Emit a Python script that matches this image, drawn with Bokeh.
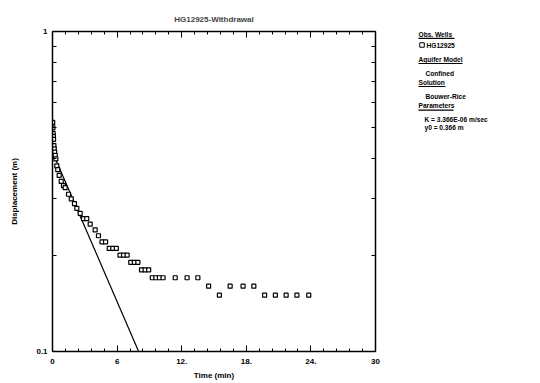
from bokeh.plotting import figure
from bokeh.models import Range1d, FixedTicker, LinearAxis, LogAxis, ColumnDataSource
from bokeh.layouts import row
from bokeh.embed import file_html
from bokeh.resources import INLINE
from bokeh.core.properties import value

# ---- data ----
time_min = [0.02, 0.04, 0.06, 0.08, 0.10, 0.13, 0.16, 0.20, 0.25, 0.31, 0.40, 0.49,
            0.62, 0.81, 1.02, 1.18, 1.49, 1.74, 2.04, 2.26, 2.57, 2.88, 3.18, 3.50,
            3.96, 4.27, 4.60, 4.93, 5.27, 5.60, 5.93, 6.27, 6.60, 6.93, 7.27, 7.60,
            7.93, 8.27, 8.60, 8.93, 9.27, 9.60, 9.93, 10.27, 11.4, 12.5, 13.5, 14.5,
            15.5, 16.5, 17.7, 18.7, 19.7, 20.7, 21.7, 22.7, 23.8]
displacement_m = [0.52, 0.50, 0.48, 0.47, 0.46, 0.44, 0.43, 0.42, 0.41, 0.40, 0.38, 0.37,
                  0.355, 0.34, 0.33, 0.325, 0.31, 0.30, 0.29, 0.28, 0.27, 0.26, 0.26, 0.25,
                  0.24, 0.23, 0.22, 0.22, 0.21, 0.21, 0.21, 0.20, 0.20, 0.20, 0.19, 0.19,
                  0.19, 0.18, 0.18, 0.18, 0.17, 0.17, 0.17, 0.17, 0.17, 0.17, 0.17, 0.16,
                  0.15, 0.16, 0.16, 0.16, 0.15, 0.15, 0.15, 0.15, 0.15]
fit_time = [0.0, 8.0]
fit_disp = [0.42, 0.10]

x_ticks = [0, 6, 12, 18, 24, 30]
x_tick_labels = ["0", "6", "12.", "18.", "24.", "30"]
x_minor_ticks = [1.2, 2.4, 3.6, 4.8, 7.2, 8.4, 9.6, 10.8, 13.2, 14.4, 15.6, 16.8,
                 19.2, 20.4, 21.6, 22.8, 25.2, 26.4, 27.6, 28.8]
y_ticks = [0.1, 1]
y_tick_labels = ["0.1", "1"]
y_minor_ticks = [0.2, 0.3, 0.4, 0.5, 0.6, 0.7, 0.8, 0.9]

legend_texts = ["Obs. Wells", "HG12925", "Aquifer Model", "Confined", "Solution",
                "Bouwer-Rice", "Parameters", "K  = 3.366E-06 m/sec", "y0 = 0.366 m"]

FONT = "Liberation Sans"
H = 383

p = figure(width=385, height=H, x_range=Range1d(0, 30), y_range=Range1d(0.1, 1),
           y_axis_type="log", output_backend="svg", toolbar_location=None,
           min_border_left=52, min_border_right=10, min_border_top=31, min_border_bottom=32,
           title="HG12925-Withdrawal")
p.title.align = "center"
p.title.text_font = FONT
p.title.text_font_size = "8px"
p.title.text_font_style = "bold"
p.title.standoff = 16
p.xgrid.visible = False
p.ygrid.visible = False
p.outline_line_color = "black"
p.background_fill_color = "white"

xt = FixedTicker(ticks=x_ticks, minor_ticks=x_minor_ticks)
yt = FixedTicker(ticks=y_ticks, minor_ticks=y_minor_ticks)

p.xaxis.ticker = xt
p.yaxis.ticker = yt
p.xaxis.major_label_overrides = {t: l for t, l in zip(x_ticks, x_tick_labels)}
p.yaxis.major_label_overrides = {t: l for t, l in zip(y_ticks, y_tick_labels)}
p.xaxis.axis_label = "Time (min)"
p.yaxis.axis_label = "Displacement (m)"

def style(ax, minor_len):
    ax.axis_line_width = 1.5
    ax.axis_line_color = "black"
    ax.major_tick_in = 6
    ax.major_tick_out = 0
    ax.minor_tick_in = minor_len
    ax.minor_tick_out = 0
    ax.major_tick_line_color = "black"
    ax.minor_tick_line_color = "black"
    ax.major_tick_line_width = 1
    ax.minor_tick_line_width = 1
    ax.major_label_text_font = FONT
    ax.major_label_text_font_style = "bold"
    ax.major_label_text_font_size = "8px"
    ax.major_label_text_color = "black"
    ax.axis_label_text_font = FONT
    ax.axis_label_text_font_style = "bold"
    ax.axis_label_text_font_size = "8px"
    ax.axis_label_text_color = "black"

for ax in p.xaxis:
    style(ax, 3)
    ax.major_label_standoff = 7
    ax.axis_label_standoff = 4
for ax in p.yaxis:
    style(ax, 4)
    ax.major_label_standoff = 5
    ax.axis_label_standoff = 14

top = LinearAxis(ticker=xt)
style(top, 3)
top.major_label_text_font_size = "1px"
top.major_label_text_alpha = 0
top.major_label_standoff = 0
p.add_layout(top, "above")

right = LogAxis(ticker=yt)
style(right, 4)
right.major_label_text_font_size = "1px"
right.major_label_text_alpha = 0
right.major_label_standoff = 0
p.add_layout(right, "right")

obs = ColumnDataSource(dict(t=time_min, d=displacement_m))
p.line(fit_time, fit_disp, line_color="black", line_width=1.2)
p.scatter("t", "d", source=obs, marker="square", size=4, fill_color="white",
          line_color="black", line_width=1.2)

# ---- side panel: its frame is aligned with the main frame (page y 31..351),
#      so the ranges below map straight to page pixels ----
p2 = figure(width=147, height=H, x_range=Range1d(0, 147), y_range=Range1d(351, 31),
            output_backend="svg", toolbar_location=None,
            min_border_left=0, min_border_right=0, min_border_top=31, min_border_bottom=32)
p2.xaxis.visible = False
p2.yaxis.visible = False
p2.grid.visible = False
p2.outline_line_color = None

lx = [33, 41, 33, 40, 33, 40, 33, 39, 39]
ly = [33.8, 44.5, 59, 72.7, 81.7, 95.7, 105.3, 119.3, 126.7]
p2.text(x=lx, y=ly, text=legend_texts, text_font=value(FONT), text_font_style="bold",
        text_font_size="6.6px", text_baseline="middle", text_align="left", text_color="black")
p2.segment(x0=[33, 33, 33, 33], y0=[37.8, 63.0, 86.0, 109.6],
           x1=[69, 77, 60, 68], y1=[37.8, 63.0, 86.0, 109.6], line_color="black", line_width=1.2)
p2.scatter(x=[36.5], y=[44.5], marker="square", size=4.5, fill_color="white",
           line_color="black", line_width=1)

layout = row(p, p2)
open("out.html", "w").write(file_html(layout, INLINE))
